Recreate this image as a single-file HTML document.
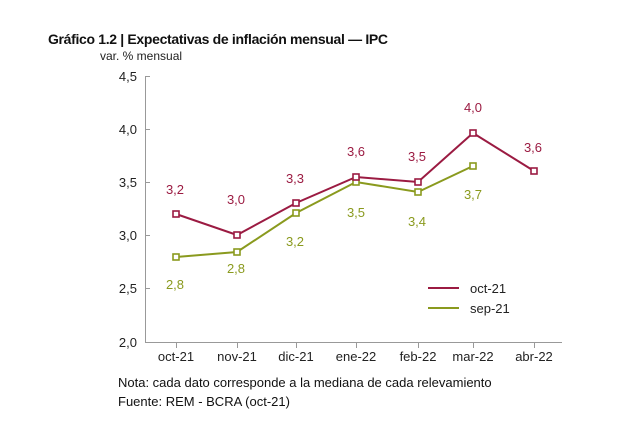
<!DOCTYPE html>
<html><head><meta charset="utf-8"><style>
body{margin:0;background:#fff;width:624px;height:436px;overflow:hidden}
svg{font-family:"Liberation Sans",sans-serif}
</style></head><body>
<svg width="624" height="436" viewBox="0 0 624 436" xmlns="http://www.w3.org/2000/svg">
<text x="48" y="44" font-size="14" font-weight="bold" fill="#111" textLength="340">Gráfico 1.2 | Expectativas de inflación mensual — IPC</text>
<text x="100" y="60" font-size="12" fill="#222">var. % mensual</text>
<g stroke="#999" stroke-width="1" fill="none">
<path d="M145.5 76V342.5H562"/>
<path d="M145 76.5h5M145 129.5h5M145 182.5h5M145 235.5h5M145 288.5h5"/>
<path d="M176.5 342v6M237.5 342v6M296.5 342v6M356.5 342v6M418.5 342v6M473.5 342v6M534.5 342v6"/>
</g>
<g font-size="13" fill="#222" text-anchor="end">
<text x="137" y="81">4,5</text><text x="137" y="134">4,0</text><text x="137" y="187">3,5</text><text x="137" y="240">3,0</text><text x="137" y="293">2,5</text><text x="137" y="347">2,0</text>
</g>
<g font-size="13" fill="#222" text-anchor="middle">
<text x="176" y="361">oct-21</text><text x="237" y="361">nov-21</text><text x="296" y="361">dic-21</text><text x="356" y="361">ene-22</text><text x="418" y="361">feb-22</text><text x="473" y="361">mar-22</text><text x="534" y="361">abr-22</text>
</g>
<polyline points="176,257 237,252 296,213 356,182 418,192 473,166" fill="none" stroke="#8a9a1e" stroke-width="2"/>
<polyline points="176,214 237,235 296,203 356,177 418,182 473,133 534,171" fill="none" stroke="#9b1b42" stroke-width="2"/>
<g fill="#fff" stroke="#8a9a1e" stroke-width="1.6">
<rect x="173" y="254" width="6" height="6"/><rect x="234" y="249" width="6" height="6"/><rect x="293" y="210" width="6" height="6"/><rect x="353" y="179" width="6" height="6"/><rect x="415" y="189" width="6" height="6"/><rect x="470" y="163" width="6" height="6"/>
</g>
<g fill="#fff" stroke="#9b1b42" stroke-width="1.6">
<rect x="173" y="211" width="6" height="6"/><rect x="234" y="232" width="6" height="6"/><rect x="293" y="200" width="6" height="6"/><rect x="353" y="174" width="6" height="6"/><rect x="415" y="179" width="6" height="6"/><rect x="470" y="130" width="6" height="6"/><rect x="531" y="168" width="6" height="6"/>
</g>
<g font-size="13" fill="#9b1b42" text-anchor="middle">
<text x="175" y="194">3,2</text><text x="236" y="204">3,0</text><text x="295" y="183">3,3</text><text x="356" y="156">3,6</text><text x="417" y="161">3,5</text><text x="473" y="112">4,0</text><text x="533" y="152">3,6</text>
</g>
<g font-size="13" fill="#8a9a1e" text-anchor="middle">
<text x="175" y="289">2,8</text><text x="236" y="273">2,8</text><text x="295" y="246">3,2</text><text x="356" y="217">3,5</text><text x="417" y="226">3,4</text><text x="473" y="199">3,7</text>
</g>
<line x1="428" y1="288" x2="459" y2="288" stroke="#9b1b42" stroke-width="2"/>
<line x1="428" y1="308" x2="459" y2="308" stroke="#8a9a1e" stroke-width="2"/>
<text x="470" y="293" font-size="13" fill="#222">oct-21</text>
<text x="470" y="313" font-size="13" fill="#222">sep-21</text>
<text x="118" y="387" font-size="13" fill="#111">Nota: cada dato corresponde a la mediana de cada relevamiento</text>
<text x="118" y="406" font-size="13" fill="#111">Fuente: REM - BCRA (oct-21)</text>
</svg>
</body></html>
